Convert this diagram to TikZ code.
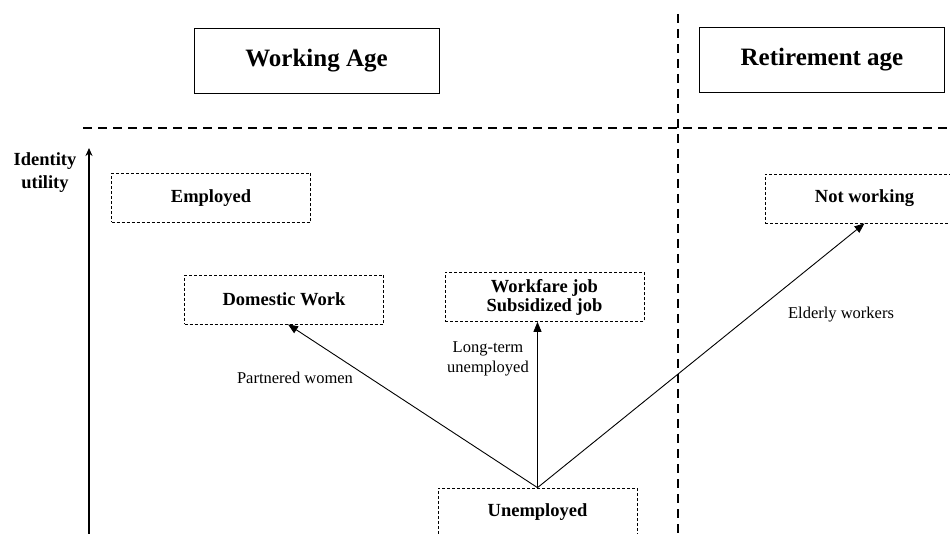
\documentclass[tikz,border=0pt]{standalone}
\usepackage{fontspec}
\setmainfont{Liberation Serif}
\usetikzlibrary{calc, arrows.meta}

\tikzset{
  agebox/.style={draw, line width=0.9pt, minimum width=245pt, minimum height=65pt,
    font=\bfseries\fontsize{25}{28}\selectfont},
  statebox/.style={draw, line width=0.7pt, dash pattern=on 3pt off 2pt,
    minimum width=199pt, minimum height=49pt, align=center,
    font=\bfseries\fontsize{18.5}{19}\selectfont},
  divider/.style={line width=2pt, dash pattern=on 9pt off 6pt},
  pathlabel/.style={align=center, font=\fontsize{16.5}{20}\selectfont},
  move/.style={-{Triangle[length=10pt,width=8pt]}, line width=0.9pt}
}

\begin{document}
\begin{tikzpicture}[x=1pt, y=-1pt]
    \useasboundingbox (0,0) rectangle (950,534);
    \clip (0,0) rectangle (950,534);

    % Hai giai doan: tuoi lao dong va tuoi nghi huu
    \node[agebox] (work) at (316.5,60.5) {Working Age};
    \node[agebox] (retire) at (822,60) {Retirement age};

    % Duong phan cach
    \coordinate (hl) at (83,128);
    \coordinate (hr) at (950,128);
    \coordinate (vt) at (678,14);
    \coordinate (vb) at (678,534);
    \draw[divider] (hl) -- (hr);
    \draw[divider] (vt) -- (vb);

    % Truc do thi
    \coordinate (ax0) at (89,534);
    \coordinate (ax1) at (89,148);
    \draw[line width=2pt, -{Stealth[length=8pt,width=7pt]}] (ax0) -- (ax1);
    \node[align=center, font=\bfseries\fontsize{18.5}{23}\selectfont] (util) at (45,173) {Identity\\utility};

    % Cac trang thai
    \node[statebox] (emp) at (211,198) {Employed};
    \node[statebox] (dom) at (284,299.5) {Domestic Work};
    \node[statebox] (wf) at (544.5,297) {Workfare job\\Subsidized job};
    \node[statebox] (unemp) at (537.5,512.5) {Unemployed};
    \node[statebox] (notw) at (864.5,198.5) {Not working};

    % Cac mui ten chuyen trang thai
    \draw[move] (unemp.north) -- ([xshift=4pt]dom.south);
    \draw[move] (unemp.north) -- (unemp.north |- wf.south);
    \draw[move] (unemp.north) -- (notw.south);

    \node[pathlabel] (pw) at (295,378) {Partnered women};
    \node[pathlabel] (ltu) at (488,359) {Long-term\\unemployed};
    \node[pathlabel] (ew) at (841,315) {Elderly workers};
\end{tikzpicture}
\end{document}
